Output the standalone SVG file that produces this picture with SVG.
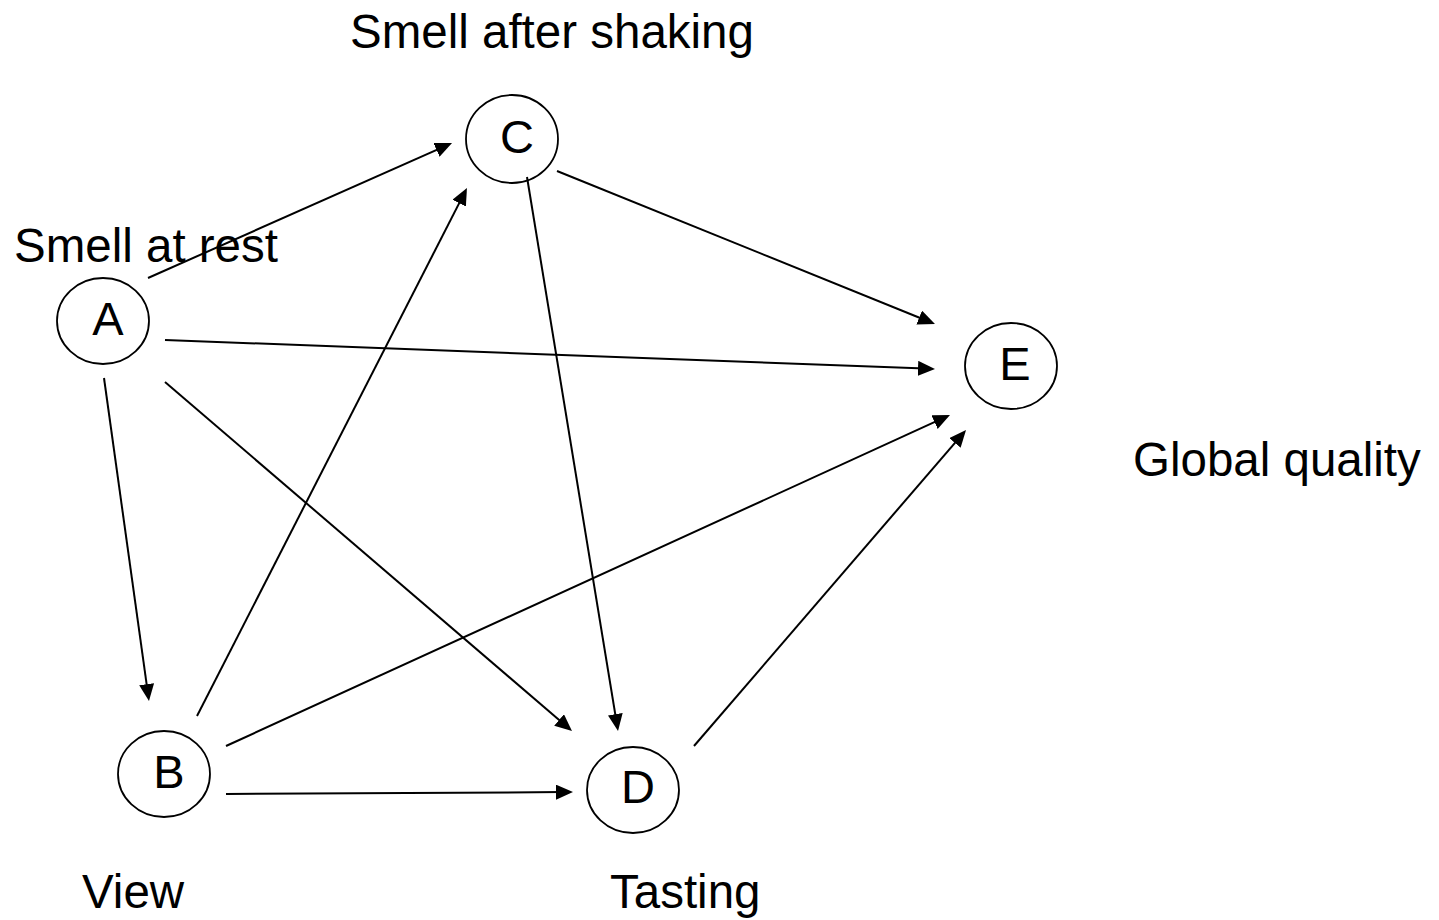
<svg xmlns="http://www.w3.org/2000/svg" width="1439" height="920" viewBox="0 0 1439 920">
  <style>
    .node ellipse { fill: #ffffff; stroke: #000000; stroke-width: 1.8; }
    .node text { font-family: "Liberation Sans", Arial, sans-serif; font-size: 47px; fill: #000000; text-anchor: middle; }
    .label { font-family: "Liberation Sans", Arial, sans-serif; font-size: 47.5px; fill: #000000; }
    .edge { stroke: #000000; stroke-width: 2; fill: none; marker-end: url(#arrow); }
  </style>
  <defs>
    <marker id="arrow" markerUnits="userSpaceOnUse" markerWidth="17" markerHeight="15" refX="7" refY="7.5" orient="auto">
      <path d="M0,0 L17,7.5 L0,15 z" fill="#000000"/>
    </marker>
  </defs>
  <rect width="1439" height="920" fill="#ffffff"/>

  <!-- outer captions -->
  <text class="label" x="350" y="48">Smell after shaking</text>
  <text class="label" x="1133" y="476">Global quality</text>
  <text class="label" x="82" y="908">View</text>
  <text class="label" x="610" y="908">Tasting</text>

  <!-- nodes -->
  <g id="node-A" class="node">
    <ellipse cx="103" cy="321" rx="46" ry="43"/>
    <text x="108" y="335">A</text>
  </g>
  <g id="node-C" class="node">
    <ellipse cx="512" cy="139" rx="46" ry="44"/>
    <text x="517" y="153">C</text>
  </g>
  <g id="node-E" class="node">
    <ellipse cx="1011" cy="366" rx="46" ry="43"/>
    <text x="1015" y="380">E</text>
  </g>
  <g id="node-B" class="node">
    <ellipse cx="164" cy="774" rx="46" ry="43"/>
    <text x="169" y="788">B</text>
  </g>
  <g id="node-D" class="node">
    <ellipse cx="633" cy="790" rx="46" ry="43"/>
    <text x="638" y="803">D</text>
  </g>

  <!-- this caption sits under the A to C connector -->
  <text class="label" x="14" y="262">Smell at rest</text>

  <!-- connectors -->
  <g id="connectors">
    <line class="edge" x1="148" y1="278" x2="442.9" y2="147.1"/>
    <line class="edge" x1="557" y1="171" x2="925.7" y2="320.2"/>
    <line class="edge" x1="165" y1="340" x2="925.0" y2="368.6"/>
    <line class="edge" x1="104" y1="378" x2="147.6" y2="691.1"/>
    <line class="edge" x1="165" y1="382" x2="564.4" y2="724.5"/>
    <line class="edge" x1="197" y1="716" x2="462.4" y2="196.9"/>
    <line class="edge" x1="527" y1="177" x2="616.4" y2="721.1"/>
    <line class="edge" x1="226" y1="746" x2="940.9" y2="419.2"/>
    <line class="edge" x1="226" y1="794" x2="563" y2="792.1"/>
    <line class="edge" x1="694" y1="746" x2="959.5" y2="437.6"/>
  </g>
</svg>
